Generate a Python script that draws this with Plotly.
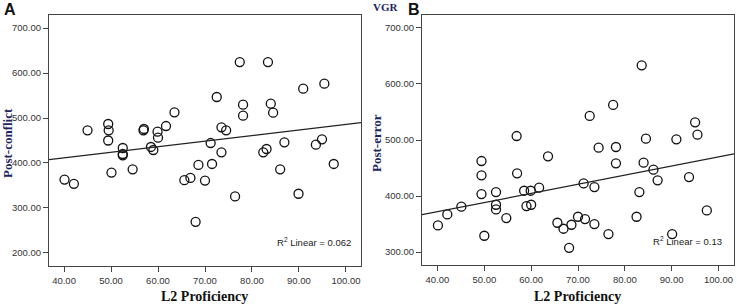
import plotly.graph_objects as go

# Panel A: Post-conflict vs L2 Proficiency
a_x = [45.0, 49.4, 49.5, 49.4, 52.5, 52.5, 52.5, 56.9, 57.0, 58.5, 59.0, 59.9, 60.0, 61.7, 63.5,
       71.2, 72.5, 73.5, 74.5, 73.5, 77.4, 78.1, 78.1, 83.4, 84.0, 84.5, 82.4, 83.1, 86.9, 90.9,
       95.4, 93.6, 94.9, 40.1, 42.1, 50.1, 54.6, 65.6, 66.9, 68.6, 68.0, 70.0, 71.5, 76.4, 86.0,
       89.9, 97.4]
a_y = [472.6, 486.7, 472.6, 450.0, 433.3, 420.0, 417.0, 472.6, 475.6, 435.6, 428.9, 469.6, 456.3,
       482.2, 512.6, 444.4, 546.7, 479.3, 472.6, 423.7, 624.4, 529.6, 505.2, 624.4, 531.9, 511.9,
       423.7, 431.1, 445.9, 565.2, 576.3, 440.7, 452.6, 363.2, 353.7, 378.7, 386.0, 361.8, 366.9,
       395.6, 269.1, 361.0, 397.8, 325.7, 386.0, 331.6, 397.8]
a_fit_x = [36.8, 103.2]
a_fit_y = [407.4, 489.6]

# Panel B: Post-error vs L2 Proficiency
b_x = [56.9, 63.6, 72.5, 74.4, 77.5, 78.1, 83.6, 84.5, 91.0, 95.0, 95.5, 49.4, 49.4, 49.4, 50.0,
       40.1, 42.1, 45.1, 52.5, 52.5, 52.5, 54.7, 57.0, 58.5, 59.0, 59.9, 60.0, 61.7, 65.6, 66.9,
       68.6, 68.1, 70.0, 71.5, 71.2, 73.5, 73.5, 76.5, 78.1, 82.5, 83.1, 84.0, 86.1, 87.0, 90.1,
       93.7, 97.5]
b_y = [507.1, 470.8, 542.9, 486.3, 562.5, 487.5, 633.3, 502.4, 501.2, 531.5, 509.5, 462.5, 436.9,
       403.6, 329.2, 347.6, 367.3, 381.0, 407.1, 384.5, 376.2, 360.7, 440.5, 409.5, 382.1, 409.5,
       384.5, 414.9, 352.4, 341.7, 348.8, 307.7, 363.1, 358.9, 422.6, 350.0, 416.1, 332.1, 458.3,
       363.1, 407.1, 459.5, 447.0, 428.0, 332.1, 433.9, 374.4]
b_fit_x = [36.7, 103.3]
b_fit_y = [366.7, 475.3]

x_ticks = [40, 50, 60, 70, 80, 90, 100]
a_y_ticks = [200, 300, 400, 500, 600, 700]
b_y_ticks = [300, 400, 500, 600, 700]

W, H = 737, 306
fig = go.Figure()

marker = dict(symbol="circle-open", size=9, color="#111111", line=dict(width=1.3, color="#111111"))

fig.add_trace(go.Scatter(x=a_x, y=a_y, mode="markers", marker=marker, xaxis="x", yaxis="y",
                         showlegend=False, hoverinfo="x+y"))
fig.add_trace(go.Scatter(x=a_fit_x, y=a_fit_y, mode="lines", line=dict(color="#222222", width=1.2),
                         xaxis="x", yaxis="y", showlegend=False))
fig.add_trace(go.Scatter(x=b_x, y=b_y, mode="markers", marker=marker, xaxis="x2", yaxis="y2",
                         showlegend=False, hoverinfo="x+y"))
fig.add_trace(go.Scatter(x=b_fit_x, y=b_fit_y, mode="lines", line=dict(color="#222222", width=1.2),
                         xaxis="x2", yaxis="y2", showlegend=False))

tickfont = dict(family="Arial, Liberation Sans, sans-serif", size=9.5, color="#333333")
axis_common = dict(showgrid=False, zeroline=False, showline=True, linecolor="#444444", linewidth=1.2,
                   mirror=True, ticks="outside", ticklen=5, tickcolor="#444444", tickwidth=1,
                   tickfont=tickfont, tickformat=".2f")

fig.update_layout(
    width=W, height=H,
    margin=dict(l=0, r=0, t=0, b=0),
    paper_bgcolor="white", plot_bgcolor="white",
    xaxis=dict(domain=[49 / W, 361 / W], range=[36.8, 103.2], tickvals=x_ticks, anchor="y", **axis_common),
    yaxis=dict(domain=[1 - 266 / H, 1 - 15 / H], range=[171, 729], tickvals=a_y_ticks, anchor="x", **axis_common),
    xaxis2=dict(domain=[422 / W, 734 / W], range=[36.7, 103.3], tickvals=x_ticks, anchor="y2", **axis_common),
    yaxis2=dict(domain=[1 - 265 / H, 1 - 15 / H], range=[277, 723], tickvals=b_y_ticks, anchor="x2", **axis_common),
)

serif_bold = dict(family="Liberation Serif, Times New Roman, serif", size=14, color="#111111")
navy = "#1a2660"

def ann(text, x, y, font, xanchor="center", yanchor="middle", angle=0):
    fig.add_annotation(text=text, x=x / W, y=1 - y / H, xref="paper", yref="paper",
                       showarrow=False, font=font, xanchor=xanchor, yanchor=yanchor, textangle=angle)

ann("<b>L2 Proficiency</b>", 204, 296, serif_bold)
ann("<b>L2 Proficiency</b>", 577, 296, serif_bold)
ann("<b>Post-conflict</b>", 7, 143, dict(family="Liberation Serif, serif", size=13, color=navy), angle=-90)
ann("<b>Post-error</b>", 376, 143, dict(family="Liberation Serif, serif", size=13, color=navy), angle=-90)
ann("<b>A</b>", 2, 9, dict(family="Arial, Liberation Sans, sans-serif", size=16, color="#111111"), xanchor="left")
ann("<b>B</b>", 406, 9, dict(family="Arial, Liberation Sans, sans-serif", size=16, color="#111111"), xanchor="left")
ann("<b>VGR</b>", 371, 7, dict(family="Liberation Serif, serif", size=11, color=navy), xanchor="left")
ann("R<sup>2</sup> Linear = 0.062", 353, 242, dict(family="Arial, Liberation Sans, sans-serif", size=9.5, color="#222222"), xanchor="right")
ann("R<sup>2</sup> Linear = 0.13", 724, 241, dict(family="Arial, Liberation Sans, sans-serif", size=9.5, color="#222222"), xanchor="right")

fig.write_html("out.html", config={"displayModeBar": False},
               post_script="document.body.style.margin='0px';document.body.style.overflow='hidden';")
